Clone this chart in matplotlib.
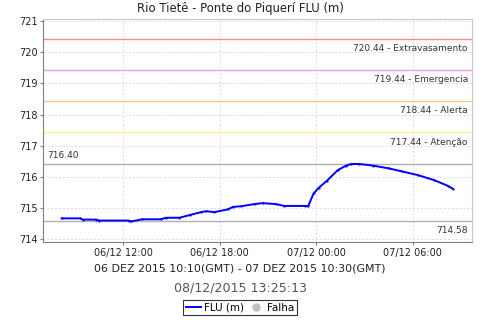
import matplotlib
matplotlib.use("Agg")
import matplotlib.pyplot as plt
import matplotlib.dates as mdates
from matplotlib.lines import Line2D
from datetime import datetime

times = ["2015-12-06 08:10", "2015-12-06 09:20", "2015-12-06 09:30", "2015-12-06 10:20",
         "2015-12-06 10:30", "2015-12-06 12:20", "2015-12-06 12:30", "2015-12-06 13:10",
         "2015-12-06 14:20", "2015-12-06 14:40", "2015-12-06 15:30", "2015-12-06 16:10",
         "2015-12-06 16:50", "2015-12-06 17:10", "2015-12-06 17:40", "2015-12-06 18:30",
         "2015-12-06 18:50", "2015-12-06 19:20", "2015-12-06 20:10", "2015-12-06 20:40",
         "2015-12-06 21:30", "2015-12-06 22:00", "2015-12-06 23:20", "2015-12-06 23:30",
         "2015-12-06 23:50", "2015-12-07 00:10", "2015-12-07 00:40", "2015-12-07 01:20",
         "2015-12-07 01:50", "2015-12-07 02:10", "2015-12-07 02:40", "2015-12-07 03:30",
         "2015-12-07 04:30", "2015-12-07 05:20", "2015-12-07 06:20", "2015-12-07 07:20",
         "2015-12-07 08:10", "2015-12-07 08:30"]
levels = [714.66, 714.66, 714.62, 714.62, 714.59, 714.59, 714.56, 714.63,
          714.63, 714.68, 714.68, 714.77, 714.86, 714.89, 714.86, 714.95,
          715.03, 715.05, 715.12, 715.15, 715.12, 715.06, 715.06, 715.05,
          715.46, 715.65, 715.87, 716.21, 716.35, 716.41, 716.41, 716.36,
          716.27, 716.17, 716.05, 715.89, 715.71, 715.61]

ref_values = [720.44, 719.44, 718.44, 717.44]
ref_names = ["Extravasamento", "Emergencia", "Alerta", "Atenção"]
ref_colors = ["#ff8c8c", "#ee99ee", "#ffc88c", "#fff08c"]
max_level = 716.40
min_level = 714.58

title = "Rio Tietê - Ponte do Piquerí FLU (m)"
xlabel = "06 DEZ 2015 10:10(GMT) - 07 DEZ 2015 10:30(GMT)"
stamp = "08/12/2015 13:25:13"

x = [datetime.strptime(t, "%Y-%m-%d %H:%M") for t in times]

fig = plt.figure(figsize=(4.8, 3.2), dpi=100)
ax = fig.add_axes([0.0902, 0.2438, 0.8931, 0.6959])

for v, n, c in zip(ref_values, ref_names, ref_colors):
    ax.axhline(v, color=c, lw=1.0, zorder=2)
    ax.annotate(f"{v:.2f} - {n}", xy=(1, v), xycoords=("axes fraction", "data"),
                xytext=(-3, -4), textcoords="offset points", ha="right", va="top",
                fontsize=6.5, color="#333333")
ax.axhline(max_level, color="#b0b0b0", lw=1.0, zorder=2)
ax.annotate(f"{max_level:.2f}", xy=(0, max_level), xycoords=("axes fraction", "data"),
            xytext=(3, 3), textcoords="offset points", ha="left", va="bottom",
            fontsize=6.5, color="#333333")
ax.axhline(min_level, color="#b0b0b0", lw=1.0, zorder=2)
ax.annotate(f"{min_level:.2f}", xy=(1, min_level), xycoords=("axes fraction", "data"),
            xytext=(-3, -4), textcoords="offset points", ha="right", va="top",
            fontsize=6.5, color="#333333")

ax.plot(x, levels, color="#0000ff", lw=1.4, marker=".", markersize=1.2, zorder=3)

ax.set_ylim(713.9, 721.065)
ax.set_xlim(datetime(2015, 12, 6, 7, 2), datetime(2015, 12, 7, 9, 41))
ax.set_yticks([714, 715, 716, 717, 718, 719, 720, 721])
ax.xaxis.set_major_locator(mdates.HourLocator(byhour=[0, 6, 12, 18]))
ax.xaxis.set_major_formatter(mdates.DateFormatter("%d/%m %H:%M"))
ax.tick_params(labelsize=7, length=2, color="#808080", pad=2, labelcolor="#222222")
ax.grid(True, color="#dadada", ls=(0, (2, 2)), lw=0.7)
for s in ["left", "bottom"]:
    ax.spines[s].set_color("#808080")
for s in ["top", "right"]:
    ax.spines[s].set_color("#c8c8c8")

fig.text(0.5, 0.972, title, ha="center", va="center", fontsize=8.4, color="#222222")
fig.text(0.5, 0.161, xlabel, ha="center", va="center", fontsize=7.9, color="#222222")
fig.text(0.5, 0.099, stamp, ha="center", va="center", fontsize=9.1, color="#555555")

handles = [Line2D([], [], color="#0000ff", lw=1.4),
           Line2D([], [], color="#c0c0c0", marker="o", ls="", markersize=5)]
leg = fig.legend(handles, ["FLU (m)", "Falha"], loc="center", bbox_to_anchor=(0.5, 0.038),
                 ncol=2, fontsize=7.5, frameon=True, fancybox=False, handlelength=1.5,
                 handletextpad=0.3, columnspacing=0.4, borderpad=0.25, borderaxespad=0)
leg.get_frame().set_edgecolor("black")
leg.get_frame().set_linewidth(0.8)

fig.savefig("out.png", dpi=100)
